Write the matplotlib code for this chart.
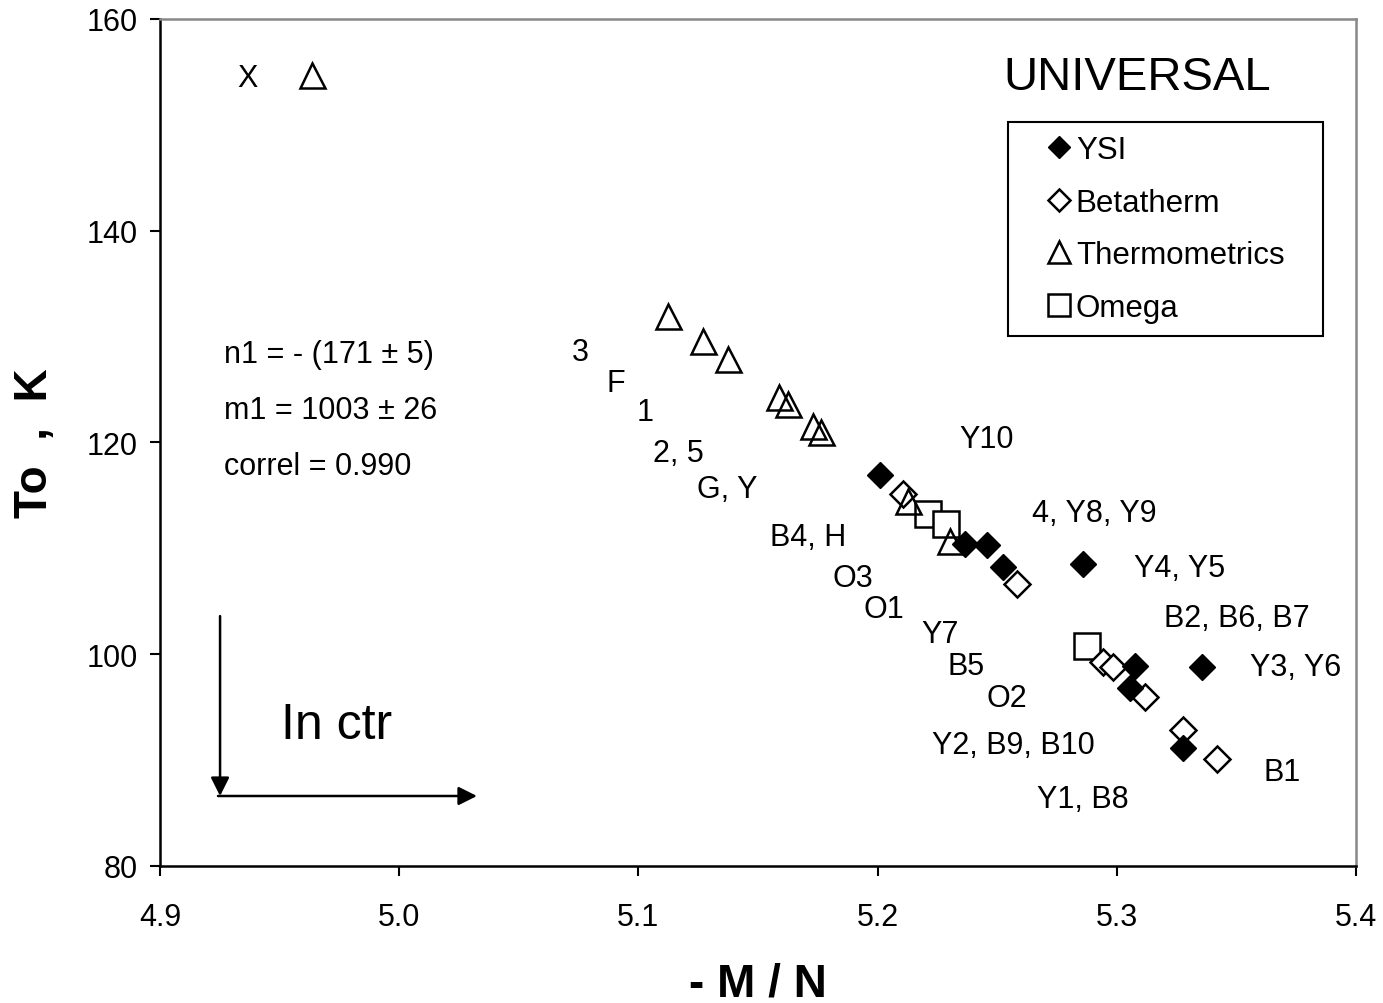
#!/usr/bin/env python3
"""UNIVERSAL thermistor fit: To vs -M/N."""

import matplotlib
matplotlib.use('Agg')
import matplotlib.pyplot as plt

plt.rcParams['font.family'] = ['Liberation Sans', 'DejaVu Sans']
plt.rcParams['xtick.labelsize'] = 22
plt.rcParams['ytick.labelsize'] = 22

# Data
ysi_x = [5.201, 5.2365, 5.2457, 5.2524, 5.2859, 5.3076, 5.3055, 5.3356, 5.3277]
ysi_y = [116.9, 110.4, 110.3, 108.2, 108.5, 98.9, 96.8, 98.8, 91.1]

beta_x = [5.2106, 5.2583, 5.2942, 5.2984, 5.3118, 5.3277, 5.3419]
beta_y = [115.1, 106.6, 99.3, 98.8, 96.0, 92.8, 90.1]

thermo_x = [4.9635, 5.1124, 5.127, 5.1375, 5.1588, 5.1625, 5.173, 5.1763, 5.2127, 5.2303]
thermo_y = [154.7, 131.9, 129.6, 127.9, 124.3, 123.6, 121.6, 121.0, 114.5, 110.7]

omega_x = [5.2211, 5.2286, 5.2875]
omega_y = [113.2, 112.3, 100.8]

# Point labels (text, x, y)
label_text = ['X', '3', 'F', '1', '2, 5', 'G, Y', 'B4, H', 'O3', 'O1', 'Y7', 'B5',
              'O2', 'Y2, B9, B10', 'Y1, B8', 'Y10', '4, Y8, Y9', 'Y4, Y5',
              'B2, B6, B7', 'Y3, Y6', 'B1']
label_x = [4.9364, 5.0756, 5.0906, 5.1028, 5.1166, 5.137, 5.1709, 5.1897, 5.2027,
           5.2261, 5.237, 5.2541, 5.2566, 5.2859, 5.2457, 5.2905, 5.3264,
           5.3503, 5.3749, 5.3691]
label_y = [154.4, 128.5, 125.6, 122.9, 119.0, 115.6, 111.1, 107.2, 104.3, 101.9,
           98.9, 95.9, 91.4, 86.3, 120.3, 113.3, 108.1, 103.4, 98.8, 88.9]

fit_lines = ['n1 = - (171 \u00b1 5)', 'm1 = 1003 \u00b1 26', 'correl = 0.990']

fig = plt.figure(figsize=(13.83, 10.04), dpi=100)
ax = fig.add_axes([0.1157, 0.1365, 0.8648, 0.8436])

ax.plot(omega_x, omega_y, 's', ms=18.5, mfc='white', mec='black', mew=1.8,
        label='Omega', zorder=3)
ax.plot(thermo_x, thermo_y, '^', ms=18, mfc='none', mec='black', mew=1.8,
        label='Thermometrics', zorder=4)
ax.plot(beta_x, beta_y, 'D', ms=13.2, mfc='white', mec='black', mew=1.8,
        label='Betatherm', zorder=3)
ax.plot(ysi_x, ysi_y, 'D', ms=13.2, mfc='black', mec='black', mew=1.0,
        label='YSI', zorder=3)

for t, x, y in zip(label_text, label_x, label_y):
    ax.text(x, y, t, ha='center', va='center', fontsize=22)

ax.set_xlim(4.9, 5.4)
ax.set_ylim(80, 160)
ax.set_xticks([4.9, 5.0, 5.1, 5.2, 5.3, 5.4])
ax.set_xticklabels(['4.9', '5.0', '5.1', '5.2', '5.3', '5.4'])
ax.set_yticks([80, 100, 120, 140, 160])
ax.tick_params(axis='both', direction='out', length=7, width=1.5)
ax.tick_params(axis='x', pad=19)
ax.tick_params(axis='y', pad=9)

for s in ['left', 'bottom']:
    ax.spines[s].set_linewidth(1.8)
for s in ['top', 'right']:
    ax.spines[s].set_color('#888888')
    ax.spines[s].set_linewidth(1.8)

ax.set_xlabel('- M / N', fontsize=33, fontweight='bold', va='center')
ax.xaxis.set_label_coords(0.5, -0.139)
ax.set_ylabel('To  ,  K', fontsize=33, fontweight='bold', va='center')
ax.yaxis.set_label_coords(-0.1045, 0.5)

for i, line in enumerate(fit_lines):
    ax.text(0.0535, 0.604 - i * 0.066, line, transform=ax.transAxes,
            ha='left', va='center', fontsize=22)

ax.text(0.817, 0.931, 'UNIVERSAL', transform=ax.transAxes,
        ha='center', va='center', fontsize=34)
ax.text(0.148, 0.166, 'In ctr', transform=ax.transAxes,
        ha='center', va='center', fontsize=36)

arrow = dict(arrowstyle='-|>', color='black', lw=1.8, mutation_scale=28,
             shrinkA=0, shrinkB=0)
ax.annotate('', xy=(0.0502, 0.0826), xytext=(0.0502, 0.295),
            xycoords='axes fraction', textcoords='axes fraction', arrowprops=arrow)
ax.annotate('', xy=(0.265, 0.0826), xytext=(0.0485, 0.0826),
            xycoords='axes fraction', textcoords='axes fraction', arrowprops=arrow)

handles, labels = ax.get_legend_handles_labels()
order = [3, 2, 1, 0]
leg = ax.legend([handles[i] for i in order], [labels[i] for i in order],
                loc='upper left', bbox_to_anchor=(0.709, 0.8784, 0.2634, 0),
                mode='expand', borderaxespad=0, fontsize=22.5, markerscale=0.88,
                handlelength=2.4, handletextpad=-0.65, labelspacing=0.72,
                borderpad=0.42, fancybox=False, edgecolor='black', framealpha=1)
leg.get_frame().set_linewidth(1.5)

fig.savefig('out.png', dpi=100)
